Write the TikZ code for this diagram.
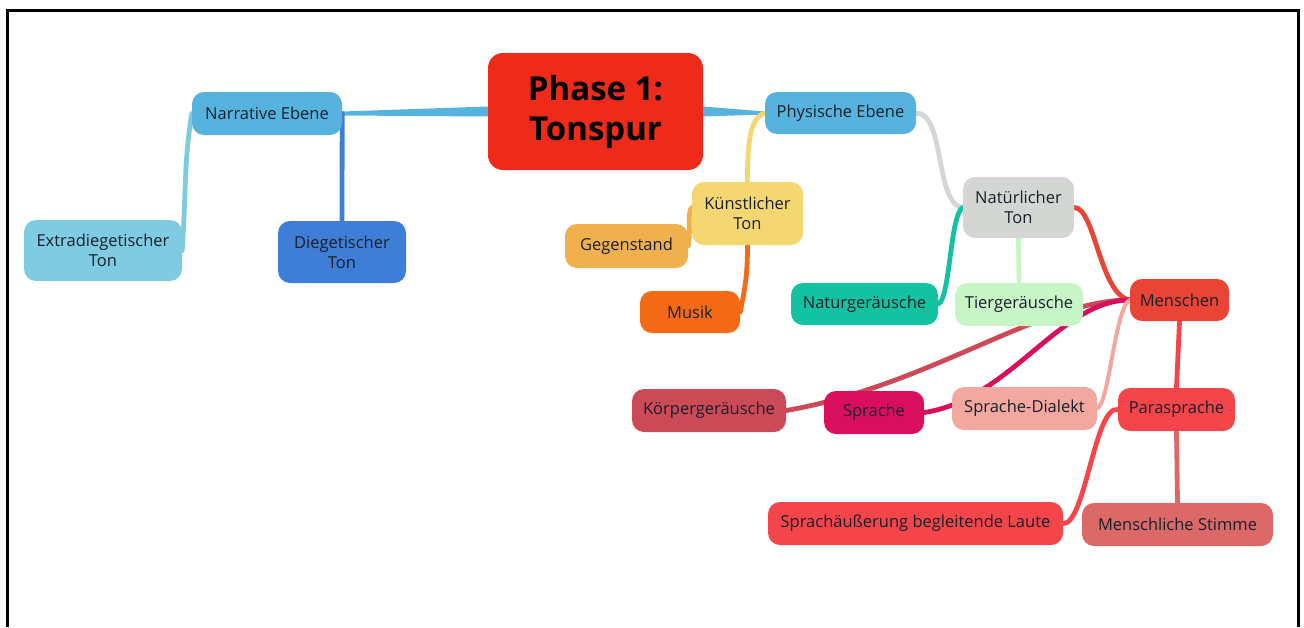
\documentclass[tikz,border=0pt]{standalone}
\usepackage{fontspec}
\setmainfont{Open Sans}
\usetikzlibrary{backgrounds}
\definecolor{txt}{HTML}{17202A}
\definecolor{cPhase}{HTML}{EE2A1B}
\definecolor{cNarr}{HTML}{56B3DE}
\definecolor{cExtra}{HTML}{7FCBE2}
\definecolor{cDieg}{HTML}{3E7ED6}
\definecolor{cKuenst}{HTML}{F4D770}
\definecolor{cGegen}{HTML}{F0B04E}
\definecolor{cMusik}{HTML}{F46A16}
\definecolor{cNat}{HTML}{D4D6D3}
\definecolor{cNatur}{HTML}{12C2A2}
\definecolor{cTier}{HTML}{C8F5C6}
\definecolor{cMensch}{HTML}{E94436}
\definecolor{cKoerper}{HTML}{CC4A58}
\definecolor{cSprache}{HTML}{D90F5E}
\definecolor{cDialekt}{HTML}{F2A89E}
\definecolor{cPara}{HTML}{F4464A}
\definecolor{cStimme}{HTML}{DC6868}

\begin{document}
\begin{tikzpicture}[x=1pt,y=-1pt,
    box/.style={rounded corners=12pt,inner sep=0pt,align=center,text=txt,
      font=\fontsize{16.5}{20}\selectfont},
    link/.style={line width=4.8pt,line cap=round}]
  \useasboundingbox (0,0) rectangle (1304,627);
  \draw [line width=3pt] (7,627) -- (7,10) -- (1298,10) -- (1298,627);
  % centre
  \node [box,fill=cPhase,rounded corners=15pt,minimum width=215pt,minimum height=117pt,
    text=black,font=\bfseries\fontsize{33}{40}\selectfont] (phase) at (595.5,111.5) {Phase 1:\\Tonspur};
  % left branch
  \node [box,fill=cNarr,minimum width=150pt,minimum height=43pt] (narr) at (267,113.5) {Narrative Ebene};
  \node [box,fill=cExtra,minimum width=158pt,minimum height=61pt] (extra) at (103,250.5) {Extradiegetischer\\Ton};
  \node [box,fill=cDieg,minimum width=128pt,minimum height=62pt] (dieg) at (342,252) {Diegetischer\\Ton};
  % right branch
  \node [box,fill=cNarr,minimum width=151pt,minimum height=42pt] (phys) at (840.5,113) {Physische Ebene};
  \node [box,fill=cKuenst,minimum width=111pt,minimum height=63pt] (kuenst) at (747.5,213.5) {Künstlicher\\Ton};
  \node [box,fill=cGegen,minimum width=123pt,minimum height=44pt] (gegen) at (626.5,246) {Gegenstand};
  \node [box,fill=cMusik,minimum width=100pt,minimum height=42pt] (musik) at (690,312) {Musik};
  \node [box,fill=cNat,minimum width=111pt,minimum height=61pt] (nat) at (1018.5,207.5) {Natürlicher\\Ton};
  \node [box,fill=cNatur,minimum width=147pt,minimum height=42pt] (natur) at (864.5,304) {Naturgeräusche};
  \node [box,fill=cTier,minimum width=128pt,minimum height=43pt] (tier) at (1019,304.5) {Tiergeräusche};
  \node [box,fill=cMensch,minimum width=99pt,minimum height=42pt] (mensch) at (1179.5,300) {Menschen};
  \node [box,fill=cKoerper,minimum width=154pt,minimum height=43pt] (koerper) at (709,410.5) {Körpergeräusche};
  \node [box,fill=cSprache,minimum width=100pt,minimum height=43pt] (sprache) at (874,412.5) {Sprache};
  \node [box,fill=cDialekt,minimum width=145pt,minimum height=43pt] (dialekt) at (1024.5,408.5) {Sprache-Dialekt};
  \node [box,fill=cPara,minimum width=117pt,minimum height=43pt] (para) at (1176.5,409.5) {Parasprache};
  \node [box,fill=cPara,minimum width=295pt,minimum height=43pt] (laute) at (915.5,523.5) {Sprachäußerung begleitende Laute};
  \node [box,fill=cStimme,minimum width=191pt,minimum height=43pt] (stimme) at (1177.5,524.5) {Menschliche Stimme};
  % connectors behind the boxes
  \begin{pgfonlayer}{background}
    \fill [cNarr] ([yshift=5pt]phase.west) -- ([yshift=2pt]narr.east) -- ([yshift=-2pt]narr.east) -- ([yshift=-5pt]phase.west) -- cycle;
    \fill [cNarr] ([yshift=5pt]phase.east) -- ([yshift=1.5pt]phys.west) -- ([yshift=-1.5pt]phys.west) -- ([yshift=-5pt]phase.east) -- cycle;
    \draw [link,cExtra] (narr.west) .. controls +(-8,50) and +(4,-60) .. (extra.east);
    \draw [link,cDieg] (narr.east) -- (dieg.north);
    \draw [link,cKuenst] (phys.west) .. controls +(-15,5) and +(0,-40) .. (kuenst.north);
    \draw [link,cGegen] ([yshift=6pt]kuenst.west) .. controls +(-5,5) and +(3,-15) .. (gegen.east);
    \draw [link,cMusik] (kuenst.south) .. controls +(0,30) and +(5,-25) .. (musik.east);
    \draw [link,cNat] (phys.east) .. controls +(29,0) and +(-28,-2.5) .. (nat.west);
    \draw [link,cNatur] (nat.west) .. controls +(-13,7) and +(12,-4) .. (natur.east);
    \draw [link,cTier] (nat.south) -- (tier.north);
    \draw [link,cMensch] (nat.east) .. controls +(21,0) and +(-30,-5) .. (mensch.west);
    \draw [link,cKoerper] (mensch.west) .. controls +(-90,0) and +(144,-25) .. (koerper.east);
    \draw [link,cSprache] (mensch.west) .. controls +(-70,0) and +(86,-13) .. (sprache.east);
    \draw [link,cDialekt,line width=4pt] (mensch.west) .. controls +(-15,8) and +(12,-5) .. (dialekt.east);
    \draw [link,cPara] (mensch.south) -- (para.north);
    \draw [link,cPara] (para.west) .. controls +(-23,-4.5) and +(22,1.5) .. (laute.east);
    \draw [link,cStimme] (para.south) -- (stimme.north);
  \end{pgfonlayer}
\end{tikzpicture}
\end{document}
